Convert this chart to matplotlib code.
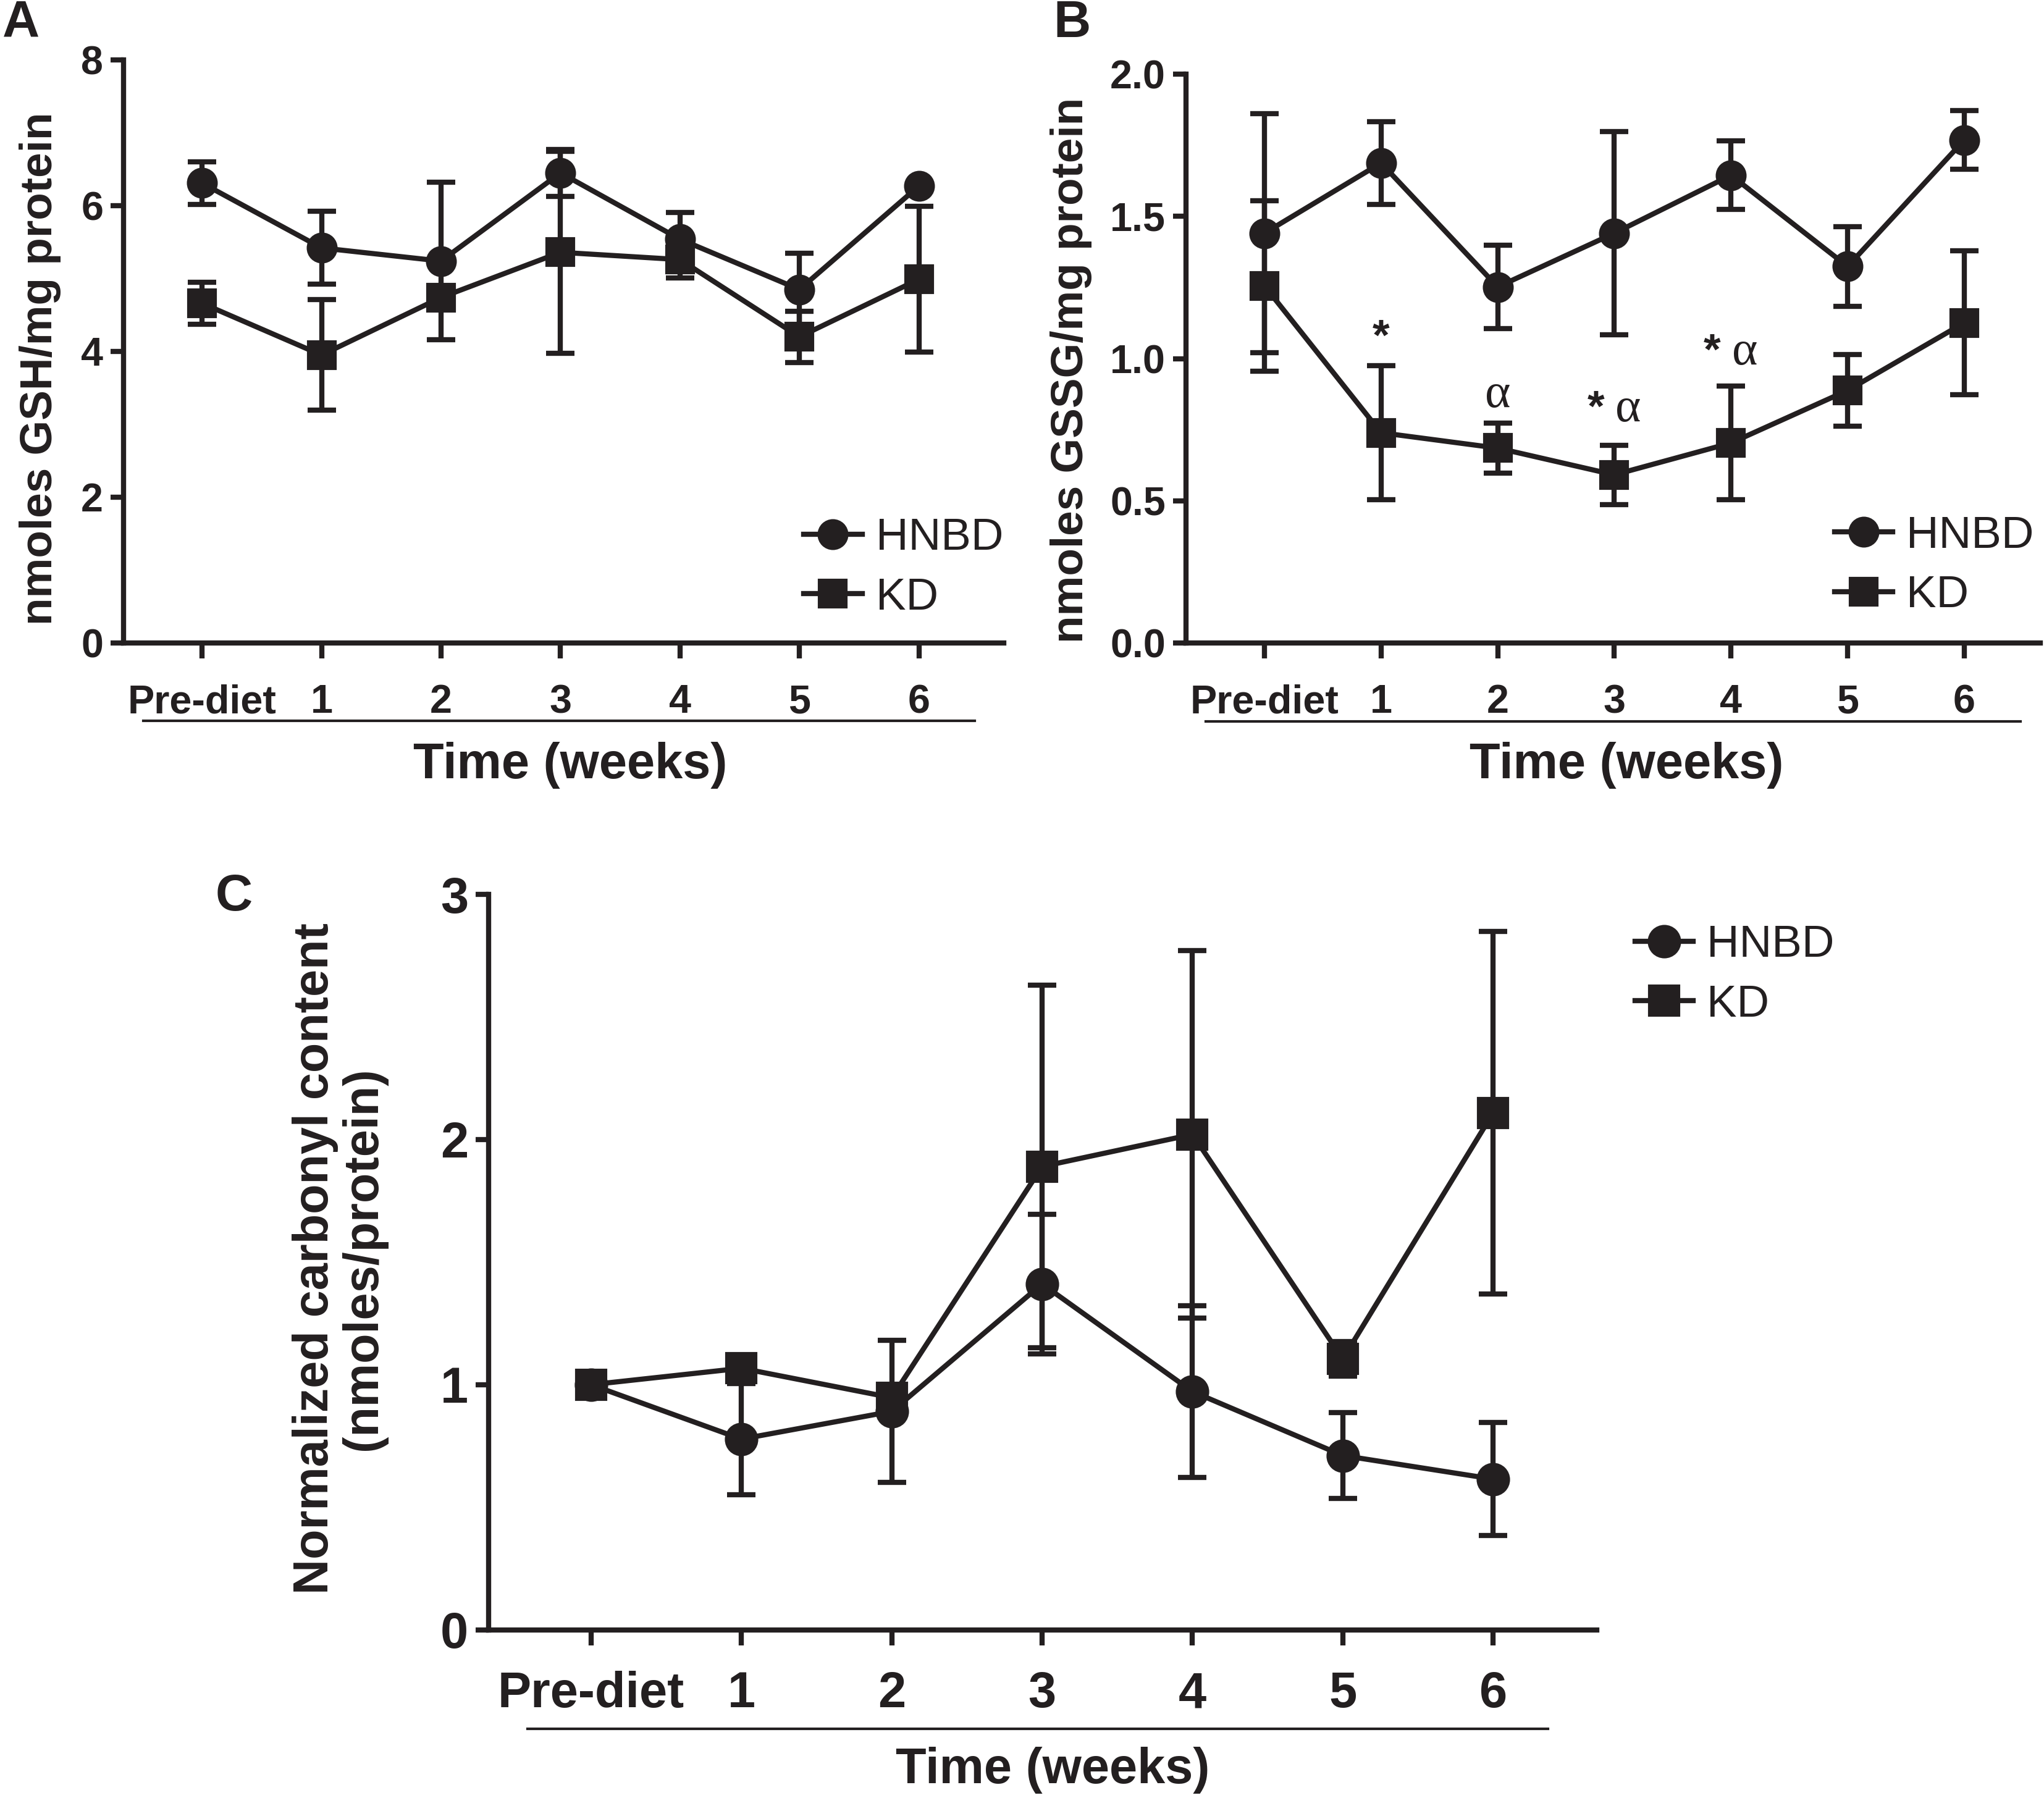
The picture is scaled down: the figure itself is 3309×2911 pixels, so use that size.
import matplotlib
matplotlib.use("Agg")
import matplotlib.pyplot as plt
from matplotlib.lines import Line2D
from matplotlib import font_manager as fm

# ---------------- data ----------------
categories = ["Pre-diet", "1", "2", "3", "4", "5", "6"]

gsh_hnbd = [6.31, 5.42, 5.24, 6.45, 5.54, 4.85, 6.27]
gsh_hnbd_err = [0.29, 0.50, 1.08, 0.32, 0.37, 0.50, 0.0]
gsh_kd = [4.66, 3.95, 4.74, 5.36, 5.26, 4.20, 4.99]
gsh_kd_err = [0.29, 0.76, 0.15, 1.39, 0.25, 0.35, 1.00]

gssg_hnbd = [1.441, 1.688, 1.252, 1.441, 1.645, 1.324, 1.769]
gssg_hnbd_err = [0.42, 0.145, 0.147, 0.357, 0.12, 0.14, 0.104]
gssg_kd = [1.256, 0.739, 0.685, 0.591, 0.703, 0.888, 1.126]
gssg_kd_err = [0.30, 0.235, 0.087, 0.104, 0.20, 0.126, 0.254]

carb_hnbd = [1.0, 0.778, 0.891, 1.411, 0.972, 0.711, 0.615]
carb_hnbd_err = [0.0, 0.226, 0.29, 0.285, 0.35, 0.175, 0.23]
carb_kd = [1.0, 1.067, 0.947, 1.89, 2.021, 1.105, 2.109]
carb_kd_err = [0.0, 0.02, 0.03, 0.74, 0.75, 0.07, 0.74]

# significance marks for panel B: (x index, y value, star, alpha)
gssg_marks_x = [1, 2, 3, 4]
gssg_marks_y = [1.07, 0.87, 0.82, 1.02]
gssg_marks_star = [True, False, True, True]
gssg_marks_alpha = [False, True, True, True]

# ---------------- style ----------------
INK = "#231f20"
names = {f.name for f in fm.fontManager.ttflist}
NARROW = ["Liberation Sans Narrow", "Liberation Sans", "DejaVu Sans"] if "Liberation Sans Narrow" in names else ["Liberation Sans", "DejaVu Sans"]
SANS = ["Liberation Sans", "DejaVu Sans"]
SERIF = ["Liberation Serif", "DejaVu Serif"]
plt.rcParams["font.family"] = SANS

W, H = 3309, 2911
fig = plt.figure(figsize=(W / 300, H / 300), dpi=300)

def fx(px):
    return px / 1568.0

def fy(py):
    return 1 - py / 1379.0

LW = 2.0

def make_panel(rect, ylim, yticks, yticklabels, hnbd, hnbd_err, kd, kd_err,
               xlim, tick_fs, ylabel, ylabel_xy, ylabel_fs, underline, timelabel_xy,
               timelabel_fs, legend_anchor, legend_fs, ms=11):
    ax = fig.add_axes(rect)
    x = list(range(len(categories)))
    for y, e, m, msz in ((hnbd, hnbd_err, "o", ms), (kd, kd_err, "s", ms - 0.5)):
        ax.errorbar(x, y, yerr=e, color=INK, lw=LW, marker=m, ms=msz,
                    mec=INK, mfc=INK, capsize=5.5, capthick=LW, elinewidth=LW,
                    clip_on=False, zorder=3)
    ax.set_xlim(*xlim)
    ax.set_ylim(*ylim)
    for s in ("top", "right"):
        ax.spines[s].set_visible(False)
    for s in ("left", "bottom"):
        ax.spines[s].set_linewidth(2.0)
        ax.spines[s].set_color(INK)
    ax.set_xticks(x)
    ax.set_xticklabels(categories)
    ax.set_yticks(yticks)
    ax.set_yticklabels(yticklabels)
    ax.tick_params(axis="x", direction="out", length=6, width=2.0, color=INK, pad=10)
    ax.tick_params(axis="y", direction="out", length=5, width=2.0, color=INK, pad=3)
    for t in ax.get_xticklabels() + ax.get_yticklabels():
        t.set_fontfamily(NARROW)
        t.set_fontweight("bold")
        t.set_fontsize(tick_fs)
        t.set_color(INK)
    ax.set_ylabel(ylabel, fontsize=ylabel_fs, fontweight="bold", color=INK,
                  ha="center", va="center", linespacing=1.05)
    ax.yaxis.set_label_coords(*ylabel_xy)
    ax.add_line(Line2D([underline[0], underline[1]], [underline[2], underline[2]],
                       transform=ax.transAxes, color=INK, lw=1.0, clip_on=False))
    ax.text(timelabel_xy[0], timelabel_xy[1], "Time (weeks)", transform=ax.transAxes,
            ha="center", va="center", fontsize=timelabel_fs, fontweight="bold", color=INK)
    handles = [Line2D([], [], color=INK, lw=LW, marker="o", ms=ms),
               Line2D([], [], color=INK, lw=LW, marker="s", ms=ms - 0.5)]
    ax.legend(handles, ["HNBD", "KD"], loc="center left", bbox_to_anchor=legend_anchor,
              frameon=False, fontsize=legend_fs, handlelength=1.3, handletextpad=0.3,
              labelspacing=0.4, borderaxespad=0, labelcolor=INK)
    return ax

# Panel A
axA = make_panel([fx(95), fy(493), fx(770) - fx(95), fy(46) - fy(493)],
                 (0, 8), [0, 2, 4, 6, 8], ["0", "2", "4", "6", "8"],
                 gsh_hnbd, gsh_hnbd_err, gsh_kd, gsh_kd_err,
                 (-0.655, 6.71), 15.5, "nmoles GSH/mg protein", (-0.095, 0.47), 17.5,
                 (0.022, 0.967, -0.134), (0.507, -0.21), 19.5,
                 (0.752, 0.128), 17.5)

# Panel B
axB = make_panel([fx(910), fy(493), fx(1565) - fx(910), fy(57) - fy(493)],
                 (0, 2.0), [0, 0.5, 1.0, 1.5, 2.0], ["0.0", "0.5", "1.0", "1.5", "2.0"],
                 gssg_hnbd, gssg_hnbd_err, gssg_kd, gssg_kd_err,
                 (-0.67, 6.65), 15.5, "nmoles GSSG/mg protein", (-0.135, 0.48), 17.5,
                 (0.023, 0.977, -0.138), (0.516, -0.216), 19.5,
                 (0.738, 0.135), 17.5)
for xi, yi, st, al in zip(gssg_marks_x, gssg_marks_y, gssg_marks_star, gssg_marks_alpha):
    if st and al:
        axB.text(xi - 0.16, yi, "*", ha="center", va="center", fontsize=17,
                 fontweight="bold", color=INK)
        axB.text(xi + 0.12, yi, "α", ha="center", va="center", fontsize=19,
                 family=SERIF, color=INK)
    elif st:
        axB.text(xi, yi, "*", ha="center", va="center", fontsize=17,
                 fontweight="bold", color=INK)
    else:
        axB.text(xi, yi, "α", ha="center", va="center", fontsize=19,
                 family=SERIF, color=INK)

# Panel C
axC = make_panel([fx(375), fy(1250), fx(1225) - fx(375), fy(686) - fy(1250)],
                 (0, 3), [0, 1, 2, 3], ["0", "1", "2", "3"],
                 carb_hnbd, carb_hnbd_err, carb_kd, carb_kd_err,
                 (-0.68, 6.69), 19.5, "Normalized carbonyl content\n(nmoles/protein)",
                 (-0.135, 0.505), 19,
                 (0.035, 0.956, -0.135), (0.509, -0.191), 19.5,
                 (1.018, 0.89), 17.5, ms=12)

# Panel letters
for lab, px, py in (("A", 2, 18), ("B", 808, 18), ("C", 165, 688)):
    fig.text(fx(px), fy(py), lab, fontsize=20, fontweight="bold", color=INK,
             ha="left", va="center")

fig.savefig("out.png", dpi=300)
